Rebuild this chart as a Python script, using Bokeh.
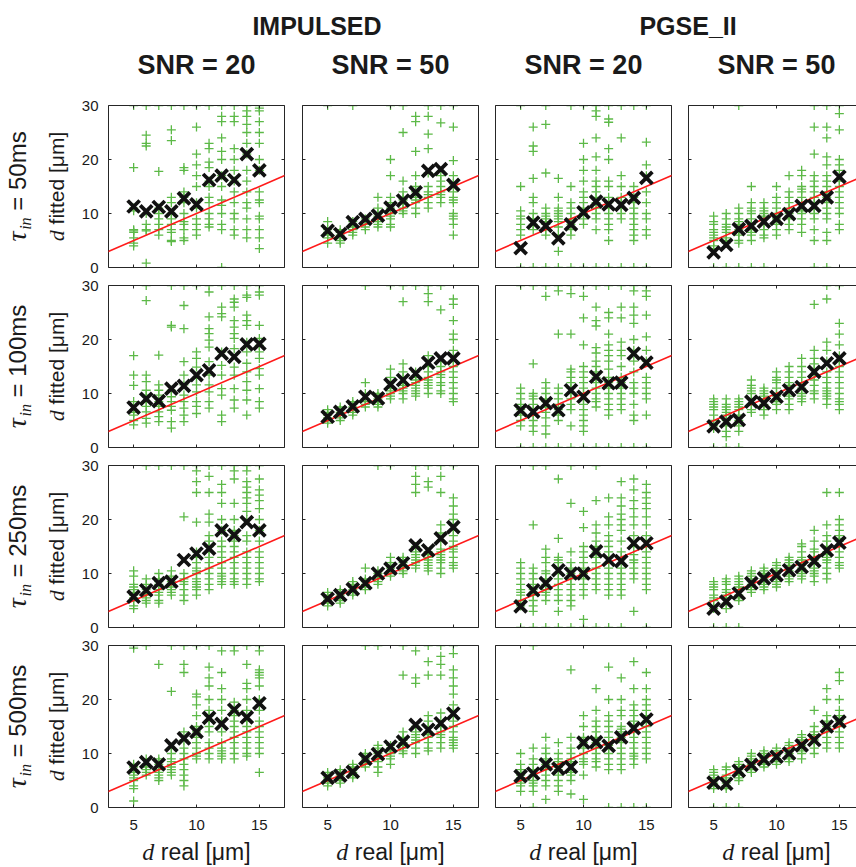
import math
from bokeh.plotting import figure
from bokeh.layouts import column, row, gridplot
from bokeh.models import Range1d, LinearAxis, FixedTicker, ColumnDataSource, Slope
from bokeh.core.properties import value
from bokeh.embed import file_html
from bokeh.resources import INLINE

# ---------------- data ----------------
d_real = [5, 6, 7, 8, 9, 10, 11, 12, 13, 14, 15]
x_ticks = [5, 10, 15]
y_ticks = [0, 10, 20, 30]
methods = ["IMPULSED", "PGSE_II"]
snr_labels = ["SNR = 20", "SNR = 50", "SNR = 20", "SNR = 50"]
tau_labels = ["50ms", "100ms", "250ms", "500ms"]

# tau_in = 50 ms
imp20_t50_mean = [11.3, 10.4, 11.2, 10.4, 12.8, 11.7, 16.2, 17.0, 16.2, 21.0, 18.0]
imp20_t50_fit = [
    [30, 18.5, 11, 10.5, 7, 6.8, 6.5, 5.5, 4.5, 4],
    [30, 24.5, 23, 22.5, 10, 8, 7, 6.8, 0.8],
    [30, 17.8, 11, 10, 9, 8, 7, 6],
    [30, 25.5, 23.5, 13, 12, 10, 9, 8, 7, 6.5, 5, 4.8],
    [30, 18.5, 18, 14, 13, 12, 10, 8.5, 8, 7, 5.5, 5],
    [30, 26, 21, 19, 17, 15, 12, 11, 9, 8, 7, 6],
    [30, 23, 22, 19.5, 18.5, 16, 15, 13, 12, 10, 9, 8, 7.5],
    [30, 28, 27, 24, 21.5, 20, 17, 15, 12.5, 11.5, 10, 8, 7, 0],
    [30, 28, 27, 22, 20, 18, 16, 14, 12, 10, 9, 7, 6],
    [30, 29, 28, 26.5, 25, 23, 21, 18, 16, 14, 12, 11, 9, 7, 5.5],
    [30, 29.5, 29, 27, 25, 23, 20, 18, 14, 12.5, 12, 9.5, 9, 7, 5.5, 3.5],
]
imp50_t50_mean = [6.8, 6.2, 8.4, 9.0, 9.6, 11.1, 12.4, 13.9, 17.9, 18.2, 15.3]
imp50_t50_fit = [
    [30, 8.5, 7, 6.5, 6, 5.5, 4.5],
    [7, 6.5, 6, 5.5, 5, 4.5],
    [30, 8.5, 8, 7.5, 7, 6.5, 6],
    [9, 8.5, 8, 7.5, 7],
    [13, 11, 10, 9.5, 9, 8.5, 8, 7.5],
    [30, 20, 17, 13, 12, 11, 10, 9.5, 9, 8, 7.5],
    [30, 25, 16, 14, 13, 12.5, 12, 11, 10.5, 10],
    [28, 27, 21.5, 17, 15, 14, 13, 12.5, 12, 11, 10],
    [30, 28, 24.7, 22, 17.5, 15, 14, 13.5, 13, 12, 11],
    [30, 26.8, 17, 16, 15, 14, 13.5, 13, 12],
    [30, 26, 19.8, 17, 15.5, 14, 13, 12.5, 12, 10, 9.5, 9, 8, 6],
]
pg20_t50_mean = [3.6, 8.3, 7.7, 5.4, 8.0, 10.2, 12.2, 11.7, 11.6, 12.9, 16.6]
pg20_t50_fit = [
    [30, 15, 10.5, 9.5, 9, 8, 7, 6, 0],
    [26, 22.5, 21.5, 16.5, 13, 12, 10, 9, 8, 7, 0],
    [30, 26.5, 17.5, 11, 10, 9.5, 9, 8.5, 8, 7, 6, 0],
    [16.5, 13, 11, 10.5, 10, 9.5, 9, 8.5, 7.5, 6, 3, 0],
    [30, 15, 12, 11, 10, 9, 8, 7, 6, 0],
    [30, 23, 20, 18, 16, 14, 13, 12, 11, 10, 9, 8, 0],
    [30, 29, 28, 24, 20.5, 18, 16, 15, 14, 13, 12, 11, 10, 9, 7, 0],
    [30, 27.5, 26.9, 22, 20, 16, 15, 13, 12, 11, 10, 9, 8, 7, 5, 0],
    [30, 24, 17, 15, 13, 12, 11, 10, 9, 0],
    [30, 15, 13, 12, 11, 10, 9, 8, 7, 6, 5, 0],
    [30, 23.2, 19, 17, 14, 12, 10, 9, 7, 6, 0],
]
pg50_t50_mean = [2.8, 4.2, 7.1, 7.7, 8.5, 9.0, 9.9, 11.4, 11.4, 13.0, 16.8]
pg50_t50_fit = [
    [9.5, 8.5, 8, 7, 6.5, 6, 5.5, 5, 4, 3.5, 0],
    [10, 9, 8, 7.5, 7, 6.5, 5.5, 5, 4.5, 0],
    [30, 11, 10, 9, 8.5, 8, 7, 6.5, 6, 5, 4.5, 0],
    [15, 12, 11, 10.5, 10, 9, 8, 7, 6.5, 6, 5, 0],
    [12, 11, 10.5, 10, 9.5, 9, 8, 7, 6, 5.5, 0],
    [15, 13, 12, 11, 10, 9.5, 9, 8.5, 8, 7, 6],
    [17, 14, 13, 12, 11, 10, 9.5, 9, 8, 7],
    [18, 17, 15, 14.5, 14, 13, 12, 11, 10.5, 10, 9, 8, 6.5],
    [30, 26, 21, 17, 16, 15, 14, 13, 12, 11, 10, 9, 7, 5, 0],
    [30, 26, 24, 20.5, 19, 17, 16, 15, 14, 13, 12, 11, 10, 9, 6.5, 5, 0],
    [30, 28.5, 25.5, 20, 19, 18, 16, 15, 14, 13, 12, 11, 10, 8, 7],
]

# tau_in = 100 ms
imp20_t100_mean = [7.4, 9.0, 8.6, 10.9, 11.4, 13.4, 14.3, 17.4, 16.8, 19.1, 19.2]
imp20_t100_fit = [
    [17, 13.4, 11.5, 8.5, 7, 6.5, 6, 5, 4.2],
    [30, 27.2, 13.4, 12.2, 10.6, 9.7, 8.5, 7.6, 6.6, 5.4, 4.5],
    [17.1, 11.6, 10.6, 9.7, 8.5, 7.6, 6.6, 5.7, 4.8],
    [30, 22.6, 22.3, 10.6, 9.4, 8.5, 7.6, 6.9, 4.8, 3.6],
    [30, 26.3, 22, 15.9, 13.4, 11.6, 9.7, 8.5, 7.3, 6, 4.8],
    [30, 17.7, 16.5, 14.9, 12.8, 11.6, 10.3, 8.5, 7.6, 6.3],
    [30, 28.8, 24.2, 22, 21.1, 19.9, 18.6, 15.9, 13.4, 11.6, 10.3, 8.5, 7.3],
    [30, 26, 24.8, 24.2, 17.7, 15.2, 13.4, 10.9, 9.7, 6, 4.8],
    [30, 27.5, 26.9, 26, 23.5, 22.3, 21.1, 20.2, 18.3, 14.9, 13.4, 10.9, 8.8, 7.3],
    [30, 28.2, 27.8, 24.5, 23.5, 22.6, 19.5, 17.7, 15.6, 14, 12.2, 10.6, 8.8, 6],
    [30, 28.8, 28.2, 22.6, 20.2, 18.9, 17.7, 16.5, 14.6, 13.4, 10.9, 8.5, 7.3],
]
imp50_t100_mean = [5.7, 6.6, 7.6, 9.4, 9.1, 11.7, 12.5, 13.7, 15.7, 16.5, 16.5]
imp50_t100_fit = [
    [7, 6.5, 6, 5.5, 5, 4.5],
    [7.5, 7, 6.5, 6, 5.5, 5],
    [8.5, 8, 7.5, 7, 6.5, 6],
    [30, 12, 10, 9, 8.5, 8, 7.5],
    [10, 9.5, 9, 8.5, 8, 7.5],
    [30, 14.5, 13, 12, 11, 10.5, 10, 9.5, 9],
    [30, 27, 15.5, 14, 13, 12, 11.5, 11, 10.5, 10, 9],
    [30, 14, 13, 12.5, 12, 11.5, 11, 10.5, 10, 9.5],
    [30, 28.5, 27, 17, 15, 14, 13, 12.5, 12, 11.5, 11, 10],
    [30, 25.5, 16, 15, 14, 13.5, 13, 12, 11.5, 10.5, 10],
    [27.5, 26.5, 23.5, 21, 20, 18, 17, 16, 15, 14, 13, 12, 11, 10, 9, 8.5],
]
pg20_t100_mean = [6.9, 6.6, 8.2, 6.9, 10.6, 9.4, 13.1, 11.9, 12.0, 17.4, 15.7]
pg20_t100_fit = [
    [30, 11, 10, 9, 8, 7.5, 7, 6, 5, 4, 0],
    [30, 15.5, 10, 9.5, 9, 8, 7, 6, 5, 4, 3, 0],
    [30, 28, 12, 11, 10, 9, 8.5, 7.5, 6.5, 5.5, 4, 2.5, 0],
    [30, 29, 21, 11, 10, 9, 8, 7, 6, 5, 0],
    [30, 28.5, 21, 14.5, 14, 13, 12, 11, 10, 9, 8, 7, 4, 0],
    [30, 28, 24, 19, 15, 14, 13, 12, 11, 10, 9, 8, 7, 6, 5, 4, 3, 0],
    [30, 26, 23.5, 22.5, 18.5, 17.5, 16, 15, 14, 13, 12, 11, 10, 9, 8.5, 7.5, 0],
    [30, 25, 24, 21, 19, 18, 17, 16, 14.5, 13, 12, 11, 10, 9, 8, 7, 6, 0],
    [30, 26, 24, 19.5, 18, 17, 15, 13, 12, 11, 10, 9, 8, 7, 0],
    [30, 29, 26, 24.5, 23, 20, 18, 16, 14, 12, 11, 10, 8, 6, 5, 0],
    [30, 29, 28, 24.5, 20.5, 18, 16, 13, 12, 11, 10, 9, 6, 0],
]
pg50_t100_mean = [3.9, 4.8, 5.1, 8.5, 8.2, 9.4, 10.6, 11.2, 14.0, 15.6, 16.5]
pg50_t100_fit = [
    [9, 8.5, 8, 7.5, 7, 6, 5, 4, 3.5, 0],
    [9, 8, 7.5, 7, 6.5, 6, 5, 4, 3, 2, 0],
    [9, 8.5, 8, 7.5, 7, 6, 5, 4, 3, 0],
    [12.5, 11.5, 11, 10.5, 10, 9, 8, 7, 6.5],
    [11, 10.5, 10, 9.5, 9, 8, 7, 6],
    [14, 13, 12.5, 12, 11, 10, 9.5, 9, 8.5, 8, 7],
    [15, 14, 13, 12, 11.5, 11, 10, 9.5, 9, 8, 7],
    [16.5, 15, 14, 13, 12, 11, 10, 9.5, 9, 8.5],
    [26.5, 18, 16.5, 15.5, 14.5, 13.5, 12.5, 11.5, 10.5, 10, 9],
    [30, 27.5, 19.5, 18, 16, 14, 13, 12, 11, 10.5, 10, 9.5, 9, 8],
    [30, 23, 21, 19, 17, 16, 15, 14, 13, 12, 11, 10, 9, 8.5, 8, 7],
]

# tau_in = 250 ms
imp20_t250_mean = [5.7, 6.9, 8.2, 8.5, 12.5, 13.7, 14.6, 18.0, 17.1, 19.5, 18.0]
imp20_t250_fit = [
    [10.5, 9.5, 8, 7.5, 7, 6.5, 6, 5.5, 5, 4, 3.5],
    [30, 9, 8, 7, 6.5, 6, 5.5, 5, 4.5],
    [30, 10, 9, 8.5, 8, 7, 6.5, 6, 5, 4.5],
    [30, 10.5, 9.5, 9, 8.5, 8, 7.5, 7, 6.5, 6],
    [30, 20.5, 10, 9, 8.5, 8, 7, 6, 5],
    [30, 29, 27, 25, 19.5, 14, 13, 12, 11, 10.5, 10, 9, 8.5, 8, 7.5, 7, 6],
    [30, 28, 25, 21, 19.5, 17, 16, 15, 14, 13, 12, 11, 10, 9, 8, 7],
    [30, 26.5, 25, 23, 20, 18, 16, 15, 14, 13, 12, 11, 10, 9.5, 9, 8.5, 8],
    [30, 29, 27.5, 23, 20, 18, 17, 16, 15, 14, 13, 12, 11, 10, 9, 8.5, 8],
    [30, 29, 27, 26, 25, 24, 23, 21.5, 20, 17, 16, 14, 13, 12, 11, 10, 9, 8],
    [30, 27.5, 25.5, 24.5, 23.5, 22, 20, 18, 16, 14, 13, 12, 11, 10, 9, 8.5],
]
imp50_t250_mean = [5.3, 6.0, 7.1, 8.2, 10.0, 10.9, 11.9, 15.2, 14.3, 16.5, 18.6]
imp50_t250_fit = [
    [6.5, 6, 5.5, 5, 4.5, 4],
    [7, 6.5, 6, 5.5, 5, 4.5],
    [8.5, 8, 7.5, 7, 6.5, 6],
    [11, 9, 8.5, 8, 7.5, 7],
    [30, 10.5, 10, 9.5, 9, 8.5, 8],
    [30, 13, 12, 11.5, 11, 10.5, 10, 9.5],
    [13, 12.5, 12, 11.5, 11, 10.5, 10],
    [30, 28, 26.5, 25, 15, 14, 13.5, 13, 12.5, 12, 11.5, 11],
    [30, 27, 26, 14, 13.5, 13, 12.5, 12, 11.5, 11, 10.5],
    [30, 28, 25, 19, 17.5, 16, 14.5, 14, 13.5, 13, 12.5, 12, 11, 10],
    [30, 24, 22.5, 21, 20, 19, 18, 17, 16, 15, 14.5, 14, 13, 12, 11.5, 11],
]
pg20_t250_mean = [3.9, 6.9, 8.2, 10.6, 10.0, 10.0, 14.1, 12.5, 12.3, 15.6, 15.6]
pg20_t250_fit = [
    [12, 11, 10, 9, 8, 7, 6.5, 6, 5, 4, 0],
    [30, 19, 11, 10, 9, 8, 7, 6.5, 6, 5, 4, 3, 0],
    [30, 14.5, 13, 12, 10.5, 10, 9, 8, 7, 6.5, 6, 5, 0],
    [27.5, 16.5, 13, 12.5, 12, 11, 10, 9, 8, 7, 6, 5, 3, 0],
    [30, 23, 14, 12, 11, 10, 9, 8, 7, 6, 5, 4, 0],
    [21.5, 18.5, 15, 14, 13, 12, 11, 10, 9, 8, 7, 6, 1.5, 0],
    [30, 23.5, 19, 17.5, 16, 15, 14, 13, 12, 11, 10, 9, 8, 7, 0],
    [24, 20.5, 19, 17, 16, 15, 14, 13, 12, 11, 10, 9, 8, 7, 6, 0],
    [27, 24, 22.5, 21, 20, 19, 18, 16, 14, 13, 11, 10, 9, 8, 7, 6, 0],
    [27.5, 25.5, 23.5, 22, 20.5, 19, 17, 15, 13.5, 12.5, 12, 11, 10, 9, 3],
    [26.5, 25, 24, 23, 22, 20.5, 19, 17, 16, 15, 14, 13, 12, 11, 10, 9, 8, 7, 0],
]
pg50_t250_mean = [3.5, 4.8, 6.3, 8.2, 9.1, 9.7, 10.6, 11.2, 12.3, 14.3, 15.7]
pg50_t250_fit = [
    [8.5, 8, 7.5, 7, 6, 5.5, 5, 4, 3.5, 0],
    [9, 8.5, 8, 7, 6.5, 6, 5.5, 4.5, 3.5, 0],
    [9.5, 9, 8.5, 8, 7.5, 7, 6, 5.5, 5, 0],
    [10.5, 10, 9.5, 9, 8.5, 8, 7.5, 7, 6.5],
    [11, 10.5, 10, 9.5, 9, 8.5, 8, 7.5, 7],
    [12, 11.5, 11, 10.5, 10, 9.5, 9, 8.5, 8, 7.5],
    [13, 12.5, 12, 11.5, 11, 10.5, 10, 9.5, 9, 8.5],
    [15.5, 15, 14, 13, 12.5, 12, 11, 10.5, 10, 9.5, 9],
    [18, 16, 14.5, 14, 13, 12.5, 12, 11, 10.5, 10, 9.5, 8.5],
    [25, 19, 17, 16, 15, 14, 13.5, 13, 12.5, 12, 11, 10, 9],
    [25, 20, 19, 18, 17, 16.5, 16, 15, 14, 13, 12, 11.5, 11],
]

# tau_in = 500 ms
imp20_t500_mean = [7.4, 8.4, 8.0, 11.5, 12.8, 14.0, 16.6, 15.5, 18.1, 16.7, 19.3]
imp20_t500_fit = [
    [30, 29.5, 8, 7.5, 7, 6.5, 6, 5.5, 5, 4, 3.5, 1.2],
    [30, 9, 8, 7.5, 7, 6.5, 6],
    [26.5, 9, 8.5, 8, 7, 6.5, 6, 5.5, 5],
    [30, 21.5, 11, 10, 9, 8.5, 8, 7.5, 7, 6.5, 6],
    [30, 26.5, 25, 14, 12.5, 11, 10, 9, 8, 7, 6, 5, 4],
    [30, 21, 20.5, 19, 17, 15, 14, 13, 12, 11, 10, 9.5, 9],
    [30, 26, 24, 22.5, 20, 18, 17, 16, 15, 14, 12, 11, 10, 9],
    [29, 25, 22, 20, 18, 16, 14, 12, 11, 10.5, 10, 9.5, 9],
    [30, 29, 19.5, 18, 17, 16, 15, 14, 13, 12, 11, 10, 9],
    [30, 26.5, 23, 22, 20, 18, 16, 15, 14, 13, 12, 11, 10, 9.5],
    [30, 29, 25.5, 25, 24.5, 24, 22.5, 20, 18, 16, 15, 14, 13, 12, 11, 10, 6.5],
]
imp50_t500_mean = [5.5, 5.9, 6.6, 9.0, 9.9, 11.3, 12.2, 15.3, 14.4, 15.6, 17.4]
imp50_t500_fit = [
    [6.5, 6, 5.5, 5, 4.5, 4],
    [7, 6.5, 6, 5.5, 5, 4.5],
    [8, 7.5, 7, 6.5, 6, 5.5],
    [30, 10, 9.5, 9, 8.5, 8, 7.5],
    [30, 11.5, 11, 10, 9.5, 9, 8.5, 7.5, 6.5],
    [11.5, 11, 10.5, 10, 9.5, 9, 8],
    [30, 24.5, 14, 13, 12.5, 12, 11.5, 11, 10.5, 10],
    [29, 24, 23, 15, 14, 13.5, 13, 12.5, 12, 11, 10],
    [30, 27, 24.5, 17, 16, 15, 14, 13.5, 13, 12, 11, 10.5],
    [30, 28, 26.5, 24.5, 17.5, 16, 15, 14, 13.5, 13, 12, 11],
    [30, 28.5, 25.5, 24, 22.5, 21, 19, 18, 17, 16, 15, 14, 13, 12.5, 12, 11.5, 11],
]
pg20_t500_mean = [5.8, 6.3, 8.0, 7.2, 7.5, 12.0, 12.1, 11.4, 13.0, 14.7, 16.3]
pg20_t500_fit = [
    [10, 8, 7, 6.5, 6, 5.5, 5, 4.5, 4, 3],
    [30, 11, 9, 8, 7, 6, 5, 4.5, 4, 3, 0],
    [13, 11, 10, 9, 8.5, 8, 7.5, 7, 6, 5, 4, 1.5],
    [12, 10, 9, 8.5, 8, 7.5, 7, 6, 5, 4, 3],
    [25.5, 13, 11, 10, 9, 8.5, 8, 7, 6.5, 6, 5, 2.5],
    [17, 15, 13, 12.5, 12, 11.5, 11, 10, 9, 8.5, 8, 6, 1.5],
    [22, 18, 16, 15, 14, 13, 12.5, 12, 11, 10, 9, 8.5, 7.5],
    [26, 20, 17, 16, 15, 14, 13, 12, 11.5, 11, 10, 9, 8, 7, 0],
    [24, 20, 18, 17, 15, 14.5, 14, 13, 12, 11, 10, 9, 8, 7, 0],
    [27, 22, 19, 18, 17, 16, 15, 14, 13, 12, 11, 10, 9.5, 9, 8, 0],
    [25, 22, 20, 19, 18, 17, 16, 15, 14, 13, 12, 11, 10, 9, 0],
]
pg50_t500_mean = [4.6, 4.4, 6.8, 7.9, 8.9, 9.4, 10.0, 11.5, 12.5, 15.0, 15.9]
pg50_t500_fit = [
    [7, 6.5, 6, 5.5, 5, 4.5, 4, 3.5, 0],
    [7.5, 7, 6, 5.5, 5, 4.5, 4, 3.5, 0],
    [8.5, 8, 7.5, 7, 6.5, 6, 5.5, 5, 0],
    [10, 9.5, 9, 8.5, 8, 7.5, 7, 6.5],
    [10.5, 10, 9.5, 9, 8.5, 8, 7.5],
    [11, 10.5, 10, 9.5, 9, 8.5, 8],
    [12, 11.5, 11, 10.5, 10, 9.5, 9, 8.5],
    [13.5, 13, 12.5, 12, 11.5, 11, 10.5, 10, 9],
    [18, 15, 14, 13.5, 13, 12.5, 12, 11, 10],
    [22, 20, 17, 16, 15.5, 15, 14.5, 14, 13, 12, 11],
    [25, 23.5, 20, 18, 17, 16.5, 16, 15, 14, 13, 12, 11],
]

panel_data = [
    [(imp20_t50_mean, imp20_t50_fit), (imp50_t50_mean, imp50_t50_fit),
     (pg20_t50_mean, pg20_t50_fit), (pg50_t50_mean, pg50_t50_fit)],
    [(imp20_t100_mean, imp20_t100_fit), (imp50_t100_mean, imp50_t100_fit),
     (pg20_t100_mean, pg20_t100_fit), (pg50_t100_mean, pg50_t100_fit)],
    [(imp20_t250_mean, imp20_t250_fit), (imp50_t250_mean, imp50_t250_fit),
     (pg20_t250_mean, pg20_t250_fit), (pg50_t250_mean, pg50_t250_fit)],
    [(imp20_t500_mean, imp20_t500_fit), (imp50_t500_mean, imp50_t500_fit),
     (pg20_t500_mean, pg20_t500_fit), (pg50_t500_mean, pg50_t500_fit)],
]

# ---------------- style / layout ----------------
GREEN = "#5cb947"
AXC = "#262626"
TXT = "#1a1a1a"
SANS = "Liberation Sans"
SERIF = "Liberation Serif"

TOTAL_W = 856
TOTAL_H = 867
HEADER_H = 96
LEFT_W = 78
FRAME_H = 162
BT = 9
BB = 9
BB_LAST = 29
X_START, X_END = 3, 17
FRAME_W = 176
LAST_FRAME_W = 168
BL = [30, 9, 9, 9]
BR = [9, 8, 8, 0]
BASE_SHIFT = 0.41  # offset (in em) of the drawn baseline below the anchor

SANS_W = {' ': 0.278, '=': 0.584, 'm': 0.833, 's': 0.5, 'f': 0.278, 'i': 0.222,
          't': 0.278, 'e': 0.556, 'd': 0.556, '[': 0.278, ']': 0.278, 'μ': 0.576,
          'r': 0.333, 'a': 0.556, 'l': 0.222}


def sans_width(s, px):
    return sum(SANS_W.get(ch, 0.556) for ch in s) * px


def style_axis(ax, labels, standoff=10):
    ax.axis_line_color = AXC
    ax.axis_line_width = 1
    ax.major_tick_line_color = AXC
    ax.major_tick_line_width = 1
    ax.major_tick_in = 3
    ax.major_tick_out = 0
    ax.minor_tick_line_color = None
    if labels:
        ax.major_label_text_font = SANS
        ax.major_label_text_font_size = "15px"
        ax.major_label_text_color = TXT
        ax.major_label_standoff = standoff
    else:
        ax.major_label_text_color = None
        ax.major_label_text_font_size = "1px"
        ax.major_label_standoff = 0


def blank_fig(w, h):
    f = figure(width=w, height=h, x_range=Range1d(0, w), y_range=Range1d(0, h),
               title=None, output_backend="svg", toolbar_location=None,
               x_axis_location=None, y_axis_location=None,
               min_border=0, min_border_left=0, min_border_right=0,
               min_border_top=0, min_border_bottom=0)
    f.outline_line_color = None
    f.background_fill_color = "white"
    f.border_fill_color = "white"
    f.xgrid.visible = False
    f.ygrid.visible = False
    return f


def make_panel(r, c, mean, fit):
    fw = FRAME_W if c < 3 else LAST_FRAME_W
    x_end = X_START + (X_END - X_START) * fw / FRAME_W
    bb = BB_LAST if r == 3 else BB
    p = figure(width=BL[c] + fw + BR[c], height=BT + FRAME_H + bb,
               x_range=Range1d(X_START, x_end), y_range=Range1d(y_ticks[0], y_ticks[-1]),
               title=None, output_backend="svg", toolbar_location=None,
               x_axis_location=None, y_axis_location=None,
               min_border_left=BL[c], min_border_right=BR[c],
               min_border_top=BT, min_border_bottom=bb)
    p.outline_line_color = None
    p.background_fill_color = "white"
    p.border_fill_color = "white"
    p.xgrid.visible = False
    p.ygrid.visible = False

    bottom = LinearAxis(ticker=FixedTicker(ticks=x_ticks))
    style_axis(bottom, r == 3, standoff=12)
    p.add_layout(bottom, "below")
    top = LinearAxis(ticker=FixedTicker(ticks=x_ticks))
    style_axis(top, False)
    p.add_layout(top, "above")
    left = LinearAxis(ticker=FixedTicker(ticks=y_ticks))
    style_axis(left, c == 0, standoff=10)
    p.add_layout(left, "left")
    if c < 3:
        right = LinearAxis(ticker=FixedTicker(ticks=y_ticks))
        style_axis(right, False)
        p.add_layout(right, "right")

    xs, ys = [], []
    for d, vals in zip(d_real, fit):
        xs.extend([d] * len(vals))
        ys.extend(vals)
    p.scatter(x="x", y="y", source=ColumnDataSource(dict(x=xs, y=ys)),
              marker="cross", size=9, line_color=GREEN, line_width=1.3)
    p.add_layout(Slope(gradient=1, y_intercept=0, line_color="#ff1a1a", line_width=1.6))
    xr = p.scatter(x="x", y="y", source=ColumnDataSource(dict(x=d_real, y=mean)),
                   marker="x", size=17, line_color="#111111", line_width=3.8)
    xr.level = "overlay"
    return p


# column geometry
widths = [BL[c] + (FRAME_W if c < 3 else LAST_FRAME_W) + BR[c] for c in range(4)]
col_frame_left = []
acc = LEFT_W
for c in range(4):
    col_frame_left.append(acc + BL[c])
    acc += widths[c]
col_centers = [fl + FRAME_W / 2 for fl in col_frame_left]

GRID_H = 3 * (BT + FRAME_H + BB) + (BT + FRAME_H + BB_LAST)
BOTTOM_H = TOTAL_H - HEADER_H - GRID_H

# header (target baselines in page pixels)
header = blank_fig(TOTAL_W, HEADER_H)
snr_w = sans_width("SNR = 20", 27)
title_x = [col_centers[0] + snr_w / 2 + 3, col_centers[2] + snr_w / 2 + 3]
header.text(x=title_x, y=[HEADER_H - 36 + BASE_SHIFT * 25] * 2, text=methods,
            text_font=value(SANS), text_font_style="bold", text_font_size=value("25px"),
            text_color=TXT, text_align="left", text_baseline="alphabetic")
header.text(x=col_centers, y=[HEADER_H - 76 + BASE_SHIFT * 27] * 4, text=snr_labels,
            text_font=value(SANS), text_font_style="bold", text_font_size=value("27px"),
            text_color=TXT, text_align="center", text_baseline="alphabetic")

# left labels (rotated, composed of pieces)
left_fig = blank_fig(LEFT_W, GRID_H)
TAU_BASE = 27
D_BASE = 65
for r in range(4):
    yc = GRID_H - (BT + FRAME_H / 2 + r * (BT + FRAME_H + BB))
    rest = "= " + tau_labels[r]
    w_tau = 0.42 * 28
    w_in = 0.778 * 16
    gap = 0.278 * 24
    w_rest = sans_width(rest, 24)
    y0 = yc - (w_tau + w_in + gap + w_rest) / 2
    left_fig.text(x=[TAU_BASE - BASE_SHIFT * 28], y=[y0], text=["τ"], angle=math.pi / 2,
                  text_font=value(SERIF), text_font_style="italic", text_font_size=value("28px"),
                  text_color=TXT, text_align="left", text_baseline="alphabetic")
    left_fig.text(x=[TAU_BASE + 5 - BASE_SHIFT * 16], y=[y0 + w_tau], text=["in"], angle=math.pi / 2,
                  text_font=value(SERIF), text_font_style="italic", text_font_size=value("16px"),
                  text_color=TXT, text_align="left", text_baseline="alphabetic")
    left_fig.text(x=[TAU_BASE - BASE_SHIFT * 24], y=[y0 + w_tau + w_in + gap], text=[rest],
                  angle=math.pi / 2,
                  text_font=value(SANS), text_font_size=value("24px"),
                  text_color=TXT, text_align="left", text_baseline="alphabetic")
    w_d = 0.5 * 22
    lab = "fitted [μm]"
    gap2 = 0.278 * 21
    w_lab = sans_width(lab, 21)
    y1 = yc - (w_d + gap2 + w_lab) / 2
    left_fig.text(x=[D_BASE - BASE_SHIFT * 22], y=[y1], text=["d"], angle=math.pi / 2,
                  text_font=value(SERIF), text_font_style="italic", text_font_size=value("22px"),
                  text_color=TXT, text_align="left", text_baseline="alphabetic")
    left_fig.text(x=[D_BASE - BASE_SHIFT * 21], y=[y1 + w_d + gap2], text=[lab], angle=math.pi / 2,
                  text_font=value(SANS), text_font_size=value("21px"),
                  text_color=TXT, text_align="left", text_baseline="alphabetic")

# bottom labels (target baseline near page y 861)
bottom_fig = blank_fig(TOTAL_W, BOTTOM_H)
lab = "real [μm]"
w_d = 0.5 * 24
gap = 0.278 * 23
w_lab = sans_width(lab, 23)
starts = [cc - (w_d + gap + w_lab) / 2 for cc in col_centers]
BASE_Y = TOTAL_H - 861
bottom_fig.text(x=starts, y=[BASE_Y + BASE_SHIFT * 24] * 4, text=["d"] * 4,
                text_font=value(SERIF), text_font_style="italic", text_font_size=value("24px"),
                text_color=TXT, text_align="left", text_baseline="alphabetic")
bottom_fig.text(x=[s + w_d + gap for s in starts], y=[BASE_Y + BASE_SHIFT * 23] * 4, text=[lab] * 4,
                text_font=value(SANS), text_font_size=value("23px"),
                text_color=TXT, text_align="left", text_baseline="alphabetic")

panels = [[make_panel(r, c, *panel_data[r][c]) for c in range(4)] for r in range(4)]
grid = gridplot(panels, toolbar_location=None)

layout = column(header, row(left_fig, grid), bottom_fig)

open("out.html", "w").write(file_html(layout, INLINE))
